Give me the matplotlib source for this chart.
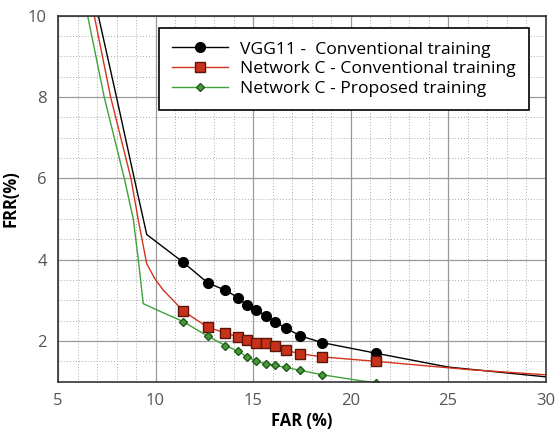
import numpy as np
import matplotlib
matplotlib.use("Agg")
import matplotlib.pyplot as plt
from matplotlib.ticker import MultipleLocator

plt.rcParams['font.family'] = ['Open Sans', 'DejaVu Sans']

# FAR / FRR curves (%)
far_vgg = [7.07, 8.0, 8.91, 9.55, 11.41, 12.68, 13.58, 14.23, 14.69, 15.17, 15.65,
           16.14, 16.68, 17.41, 18.55, 21.31, 25.0, 30.0]
frr_vgg = [10.0, 8.0, 6.0, 4.62, 3.94, 3.43, 3.25, 3.07, 2.88, 2.77, 2.62,
           2.47, 2.32, 2.13, 1.96, 1.70, 1.36, 1.12]
mark_vgg = [4, 5, 6, 7, 8, 9, 10, 11, 12, 13, 14, 15]

far_netc = [6.86, 7.70, 8.74, 9.12, 9.55, 9.97, 10.4, 10.91, 11.41, 12.68, 13.58, 14.23,
            14.69, 15.17, 15.65, 16.14, 16.68, 17.41, 18.55, 21.31, 26.0, 30.0]
frr_netc = [10.0, 8.0, 6.0, 4.97, 3.90, 3.53, 3.25, 3.0, 2.74, 2.34, 2.20, 2.10,
            2.02, 1.96, 1.94, 1.87, 1.77, 1.69, 1.61, 1.50, 1.30, 1.17]
mark_netc = [8, 9, 10, 11, 12, 13, 14, 15, 16, 17, 18, 19]

far_prop = [6.52, 7.37, 8.40, 8.86, 9.12, 9.37, 10.14, 11.41, 12.68, 13.58, 14.23, 14.69,
            15.17, 15.65, 16.14, 16.68, 17.41, 18.55, 20.57, 21.31]
frr_prop = [10.0, 8.0, 6.0, 5.0, 4.0, 2.92, 2.75, 2.48, 2.12, 1.89, 1.75, 1.61,
            1.51, 1.44, 1.40, 1.35, 1.28, 1.17, 1.02, 0.98]
mark_prop = [7, 8, 9, 10, 11, 12, 13, 14, 15, 16, 17, 19]

fig = plt.figure(figsize=(5.55, 4.33), dpi=100)
ax = fig.add_axes([0.1045, 0.1185, 0.8785, 0.845])

ax.plot(far_vgg, frr_vgg, color='black', lw=1.0, marker='o', markersize=7,
        markevery=mark_vgg, markerfacecolor='black', markeredgecolor='black',
        label='VGG11 -  Conventional training')
ax.plot(far_netc, frr_netc, color='#d2341c', lw=1.0, marker='s', markersize=6.5,
        markevery=mark_netc, markerfacecolor='#c8321a', markeredgecolor='#5a1408',
        label='Network C - Conventional training')
ax.plot(far_prop, frr_prop, color='#3ea23a', lw=1.0, marker='D', markersize=4.5,
        markevery=mark_prop, markerfacecolor='#4a9a3a', markeredgecolor='#1f5a1c',
        label='Network C - Proposed training')

ax.set_xlim(5, 30)
ax.set_ylim(1, 10)
ax.xaxis.set_major_locator(MultipleLocator(5))
ax.xaxis.set_minor_locator(MultipleLocator(1))
ax.yaxis.set_major_locator(MultipleLocator(2))
ax.yaxis.set_minor_locator(MultipleLocator(0.5))
ax.grid(which='major', color='#999999', lw=0.9, ls='-')
ax.grid(which='minor', color='#aaaaaa', lw=0.7, ls=(0, (1, 2)))
ax.set_axisbelow(True)
ax.tick_params(which='both', length=0, labelsize=12, labelcolor='#555555', pad=8)
for s in ax.spines.values():
    s.set_color('#333333')
    s.set_linewidth(1.2)

ax.set_xlabel('FAR (%)', fontsize=12, fontweight='bold', labelpad=2)
ax.set_ylabel('FRR(%)', fontsize=12, fontweight='bold', labelpad=6)

leg = ax.legend(loc='upper right', bbox_to_anchor=(0.966, 0.966), fontsize=12.6,
                frameon=True, fancybox=False, framealpha=1, edgecolor='black',
                handlelength=3.2, handletextpad=0.7, borderpad=0.75, labelspacing=0.2,
                borderaxespad=0)
leg.get_frame().set_linewidth(1.2)

fig.savefig('out.png', dpi=100)
